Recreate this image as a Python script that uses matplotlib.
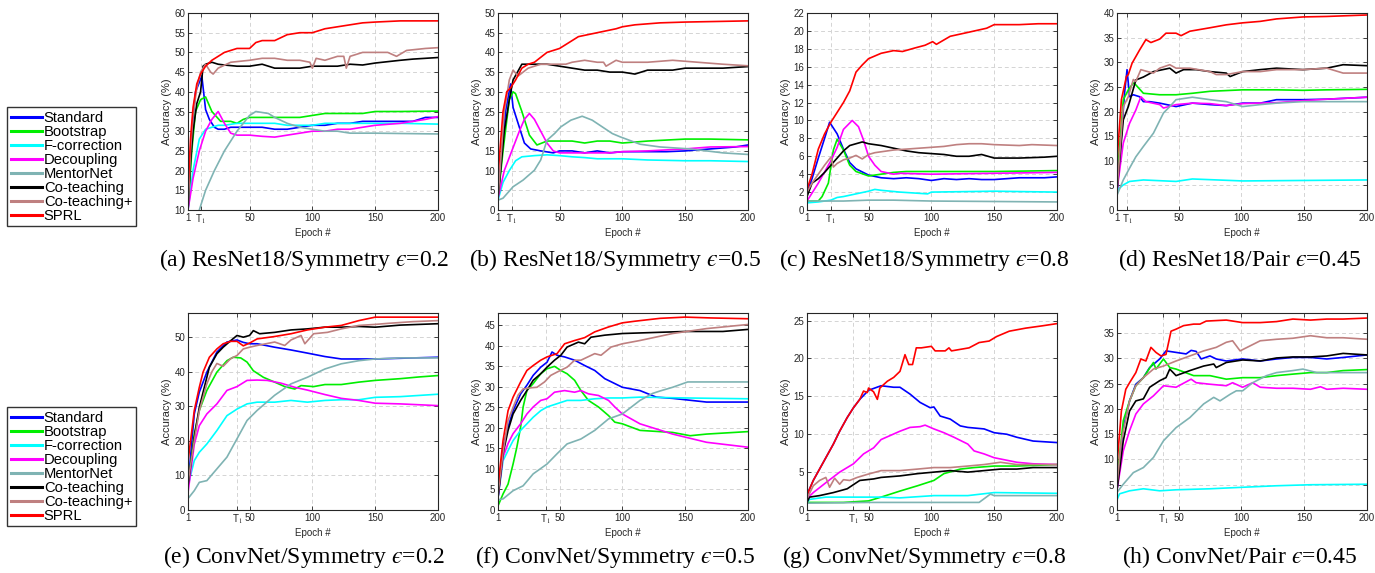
import matplotlib
matplotlib.use("Agg")
import matplotlib.pyplot as plt
from matplotlib.lines import Line2D

# ---------------------------------------------------------------
# curves: (epoch, accuracy %) pairs per method
# ---------------------------------------------------------------
methods = ["Standard", "Bootstrap", "F-correction", "Decoupling",
           "MentorNet", "Co-teaching", "Co-teaching+", "SPRL"]
colors = ["#0000ff", "#00ee00", "#00ffff", "#ff00ff",
          "#7fb3b3", "#000000", "#bf8080", "#ff0000"]

# (a) ResNet18 / Symmetry 0.2
res_sym02 = {
    "Standard": [(1, 10), (4, 30), (7, 40), (12, 44), (15, 35.5), (18, 33), (22, 31), (25, 30.5), (30, 30.5), (35, 31), (50, 31), (60, 31), (70, 30.5), (80, 30.5), (90, 31), (100, 31.5), (110, 31.5), (120, 32), (130, 32), (140, 32.5), (150, 32.5), (160, 32.5), (180, 32.5), (190, 33.5), (200, 33.5)],
    "Bootstrap": [(1, 10), (4, 25), (7, 35), (11, 38), (15, 38.7), (20, 35), (27, 32.5), (35, 32.5), (40, 32), (45, 33), (50, 33.5), (60, 33.5), (70, 33.5), (80, 33.5), (90, 33.5), (100, 34), (110, 34.5), (120, 34.5), (130, 34.5), (140, 34.5), (150, 35), (170, 35), (200, 35.1)],
    "F-correction": [(1, 10), (5, 20), (10, 28), (15, 30.5), (20, 31), (25, 31.5), (30, 31.5), (40, 32), (50, 32), (60, 32), (70, 32), (80, 31.5), (90, 31.5), (100, 31.5), (110, 32), (120, 32), (130, 32), (140, 32), (150, 32), (170, 32), (200, 31.8)],
    "Decoupling": [(1, 10), (5, 18), (10, 25), (15, 30), (20, 33), (25, 35), (30, 32), (35, 29.5), (40, 29), (50, 29), (60, 28.7), (70, 28.5), (80, 29), (90, 29.5), (100, 30), (110, 30), (120, 30.5), (130, 30.5), (140, 31), (150, 31.5), (170, 32), (190, 33), (200, 33.7)],
    "MentorNet": [(1, 3), (10, 10), (15, 15), (22, 20), (30, 25), (40, 30), (50, 34), (55, 35), (65, 34.5), (70, 33.5), (80, 32), (90, 31), (100, 30.5), (110, 30), (120, 30), (130, 29.5), (150, 29.5), (200, 29.3)],
    "Co-teaching": [(1, 10), (3, 22), (5, 30), (8, 37), (11, 40), (13, 46.5), (15, 47), (20, 47.5), (25, 47), (30, 46.8), (40, 46.5), (50, 46.5), (60, 47), (70, 46), (80, 46), (90, 46), (100, 46.5), (110, 46.5), (120, 46.5), (130, 47), (140, 46.8), (150, 47.3), (170, 48), (180, 48.3), (200, 48.7)],
    "Co-teaching+": [(1, 10), (3, 25), (5, 34), (8, 41), (11, 45), (15, 47), (19, 45), (21, 44.5), (25, 46), (35, 47.5), (50, 48), (60, 48.5), (70, 48.5), (80, 48), (90, 48), (98, 47.5), (100, 46), (103, 48.5), (110, 48), (120, 49), (125, 49), (127, 46), (130, 49), (140, 50), (150, 50), (160, 50), (167, 49), (175, 50.5), (190, 51), (200, 51.2)],
    "SPRL": [(1, 15), (3, 28), (5, 36), (8, 42), (11, 44.5), (15, 46.5), (20, 48), (25, 49), (30, 50), (40, 51), (50, 51), (55, 52.5), (60, 53), (70, 53), (80, 54.5), (90, 55), (100, 55), (110, 56), (120, 56.5), (130, 57), (140, 57.5), (150, 57.7), (170, 58), (200, 58)],
}

# (b) ResNet18 / Symmetry 0.5
res_sym05 = {
    "Standard": [(1, 3), (7, 25), (11, 32), (13, 26), (17, 22), (22, 17), (27, 15.5), (35, 15), (45, 14.5), (50, 15), (60, 15), (70, 14.5), (80, 15), (90, 14.5), (100, 14.8), (135, 14.8), (150, 15), (170, 15.5), (190, 16), (200, 16.5)],
    "Bootstrap": [(1, 3), (5, 15), (10, 28), (13, 30), (15, 29.5), (20, 25), (26, 19), (32, 16.5), (40, 17.5), (50, 17.5), (60, 17.5), (70, 17), (80, 17.5), (90, 17.5), (100, 17), (120, 17.5), (150, 18), (170, 18), (200, 17.8)],
    "F-correction": [(1, 2.5), (5, 7), (10, 10), (15, 12.5), (20, 13.5), (30, 13.8), (40, 14), (50, 13.8), (60, 13.5), (70, 13.3), (80, 13), (100, 13), (120, 12.7), (150, 12.5), (170, 12.5), (200, 12.3)],
    "Decoupling": [(1, 3), (6, 10), (12, 15), (18, 20), (22, 23), (26, 24.5), (30, 23), (35, 20), (40, 17), (45, 15), (50, 14.5), (60, 14.5), (70, 14.5), (80, 14.5), (90, 14.5), (100, 14.8), (120, 15), (150, 15.5), (170, 16), (200, 16.1)],
    "MentorNet": [(1, 2.5), (5, 3), (13, 5.9), (21, 7.6), (30, 10.1), (35, 12.7), (40, 17.7), (46, 19.4), (51, 21.1), (59, 22.8), (68, 23.8), (76, 22.8), (84, 21.1), (92, 19.4), (98, 18.6), (114, 16.7), (130, 16), (154, 15.5), (180, 14.5), (200, 14.1)],
    "Co-teaching": [(1, 3), (6, 20), (10, 28), (13, 33), (20, 37), (25, 37), (30, 37), (40, 37), (50, 36.5), (60, 36), (70, 35.5), (80, 35.5), (90, 35), (100, 35), (110, 34.5), (120, 35.5), (140, 35.5), (150, 36), (170, 36), (180, 36), (200, 36.4)],
    "Co-teaching+": [(1, 3), (6, 25), (10, 33), (13, 35.5), (17, 34), (25, 36), (35, 37), (45, 37), (55, 37), (60, 37.5), (70, 38), (80, 37.5), (85, 37.5), (87, 36.5), (95, 38), (100, 37.5), (120, 37.5), (140, 38), (160, 37.5), (180, 37), (200, 36.6)],
    "SPRL": [(1, 9), (5, 25), (8, 30), (11, 31), (15, 33), (20, 36), (25, 37), (30, 37.5), (40, 40), (50, 41), (55, 42), (65, 44), (80, 45), (95, 46), (100, 46.5), (110, 47), (130, 47.5), (150, 47.7), (200, 48)],
}

# (c) ResNet18 / Symmetry 0.8
res_sym08 = {
    "Standard": [(1, 2), (5, 3.5), (10, 5.8), (15, 8), (19, 9.8), (25, 8.5), (30, 6.8), (35, 5.3), (40, 4.6), (50, 3.9), (60, 3.6), (70, 3.5), (80, 3.6), (90, 3.5), (100, 3.3), (110, 3.5), (120, 3.4), (130, 3.5), (140, 3.4), (150, 3.4), (160, 3.5), (170, 3.6), (190, 3.6), (200, 3.7)],
    "Bootstrap": [(1, 1), (10, 1), (13, 1.5), (18, 3), (22, 6.7), (25, 7.9), (30, 6.7), (35, 5), (40, 4.3), (50, 3.8), (60, 4.0), (70, 4.2), (80, 4.3), (100, 4.3), (150, 4.3), (200, 4.4)],
    "F-correction": [(1, 0.8), (10, 0.9), (15, 1.0), (20, 1.1), (25, 1.4), (30, 1.5), (40, 1.8), (50, 2.1), (55, 2.3), (60, 2.2), (75, 2.0), (97, 1.8), (100, 2.0), (150, 2.1), (200, 2.0)],
    "Decoupling": [(1, 1), (10, 3), (20, 5.5), (25, 7), (30, 9), (37, 10), (42, 9.3), (46, 7.8), (50, 6), (55, 5), (60, 4.3), (70, 4), (75, 4.1), (100, 4), (150, 4.1), (200, 4.2)],
    "MentorNet": [(1, 1), (30, 1), (50, 1.1), (70, 1.1), (100, 1.0), (150, 0.95), (200, 0.9)],
    "Co-teaching": [(1, 1.5), (5, 3), (10, 3.5), (15, 4.2), (20, 5), (25, 5.8), (30, 6.6), (35, 7.2), (40, 7.4), (45, 7.6), (50, 7.4), (55, 7.3), (60, 7.2), (70, 6.9), (80, 6.6), (90, 6.4), (100, 6.3), (110, 6.2), (120, 6.0), (130, 6.0), (140, 6.2), (150, 5.8), (170, 5.8), (190, 5.9), (200, 6.0)],
    "Co-teaching+": [(1, 2), (5, 3), (10, 4), (15, 5), (20, 5.9), (22, 4.8), (25, 5.2), (30, 5.6), (35, 5.8), (40, 6.1), (45, 5.7), (50, 6.2), (55, 6.4), (60, 6.5), (70, 6.7), (80, 6.8), (90, 6.9), (100, 7.0), (110, 7.1), (120, 7.3), (130, 7.4), (140, 7.4), (150, 7.3), (170, 7.2), (180, 7.3), (200, 7.2)],
    "SPRL": [(1, 2.3), (5, 4), (10, 6.8), (15, 8.5), (20, 9.8), (25, 10.9), (30, 12), (35, 13.3), (40, 15.4), (45, 16.2), (50, 16.9), (55, 17.2), (60, 17.5), (70, 17.8), (77, 17.7), (87, 18.1), (95, 18.4), (101, 18.8), (104, 18.5), (115, 19.4), (128, 19.8), (144, 20.3), (150, 20.7), (170, 20.7), (185, 20.8), (200, 20.8)],
}

# (d) ResNet18 / Pair 0.45
res_pair045 = {
    "Standard": [(1, 3), (7, 23.7), (9, 28.5), (11, 23), (14, 23.4), (19, 23), (22, 22), (27, 22), (35, 21.7), (48, 21), (61, 21.7), (75, 21.4), (88, 21.2), (101, 21.7), (115, 21.7), (128, 22.4), (149, 22.4), (168, 22.5), (200, 22.9)],
    "Bootstrap": [(1, 6), (6, 22.4), (10, 24.4), (14, 25.8), (16, 25.4), (22, 23.7), (35, 23.4), (48, 23.4), (61, 23.7), (75, 24.1), (101, 24.4), (128, 24.4), (149, 24.3), (168, 24.4), (200, 24.5)],
    "F-correction": [(1, 4), (6, 5.1), (11, 5.8), (22, 6.1), (48, 5.8), (61, 6.3), (101, 5.9), (200, 6.1)],
    "Decoupling": [(1, 4), (6, 13.6), (11, 17.6), (16, 20.3), (20, 23), (24, 22), (35, 21.4), (38, 20.7), (48, 21.4), (61, 21.7), (75, 21.6), (88, 21.2), (101, 21.6), (128, 21.8), (149, 22.2), (168, 22.5), (200, 22.9)],
    "MentorNet": [(1, 3), (6, 6.1), (11, 8.5), (16, 10.8), (22, 12.9), (30, 15.6), (38, 19.7), (43, 21), (48, 22.4), (61, 22.9), (75, 22.4), (88, 22), (101, 21), (115, 21.4), (128, 21.7), (149, 22), (200, 22)],
    "Co-teaching": [(1, 4), (6, 18.3), (10, 21), (16, 26.4), (22, 27), (30, 28.1), (43, 28.8), (48, 27.8), (54, 28.5), (64, 28.5), (75, 28.1), (88, 27.8), (91, 27.1), (101, 28.1), (115, 28.5), (128, 28.8), (149, 28.5), (168, 28.8), (181, 29.5), (200, 29.3)],
    "Co-teaching+": [(1, 4), (6, 21), (10, 23), (14, 26.5), (16, 26.1), (20, 28.5), (24, 28.2), (30, 27.8), (35, 28.8), (43, 29.5), (48, 28.8), (59, 28.8), (75, 28.1), (80, 27.5), (88, 27.5), (101, 28.1), (115, 28.1), (128, 28.5), (149, 28.5), (168, 28.8), (181, 27.8), (200, 27.8)],
    "SPRL": [(1, 10), (4.5, 22.4), (8.5, 27.1), (10, 27.5), (13, 29.8), (19, 32.5), (24, 34.6), (28, 34), (35, 34.7), (40, 35.9), (48, 35.9), (52, 35.4), (59, 36.3), (75, 37), (88, 37.6), (101, 38), (115, 38.3), (128, 38.8), (149, 39.2), (168, 39.3), (200, 39.6)],
}

# (e) ConvNet / Symmetry 0.2
conv_sym02 = {
    "Standard": [(1, 7), (6, 27.8), (10, 34.1), (16, 39.9), (24, 45.7), (32, 48.6), (40, 49.2), (45, 48.5), (50, 48.1), (56, 48.1), (70, 47.1), (83, 46.3), (96, 45.4), (110, 44.4), (123, 43.7), (137, 43.7), (150, 43.7), (170, 43.9), (200, 44.2)],
    "Bootstrap": [(1, 7), (6, 22), (10, 28.8), (16, 34.6), (24, 39.9), (32, 43.2), (37, 44.2), (43, 44), (48, 42.8), (53, 40.3), (61, 38.4), (70, 37), (78, 35.7), (86, 35), (91, 36), (101, 35.7), (110, 36.3), (123, 36.3), (137, 37), (150, 37.5), (170, 38), (185, 38.5), (200, 38.9)],
    "F-correction": [(1, 7), (6, 14.3), (10, 16.7), (16, 19.1), (24, 23), (32, 27.3), (40, 29.2), (48, 30.7), (56, 31.2), (70, 31.2), (83, 31.7), (96, 31.2), (110, 31.7), (123, 31.9), (137, 31.9), (150, 32.6), (170, 32.8), (200, 33.5)],
    "Decoupling": [(1, 5), (6, 19), (10, 24.4), (16, 27.8), (24, 30.7), (32, 34.6), (40, 35.7), (48, 37.5), (56, 37.6), (64, 37.5), (75, 36.7), (86, 35.5), (96, 34.7), (110, 33.4), (123, 32.3), (137, 31.7), (150, 30.9), (170, 30.7), (200, 30.2)],
    "MentorNet": [(1, 3.3), (6, 5.6), (10, 8), (16, 8.5), (24, 11.9), (32, 15.3), (40, 20.6), (48, 25.9), (56, 28.8), (70, 33.2), (83, 36.5), (96, 38.4), (110, 40.8), (123, 42.3), (137, 43.2), (150, 43.7), (170, 44), (200, 44)],
    "Co-teaching": [(1, 7), (6, 21), (10, 29.7), (14, 35.5), (18, 41.3), (24, 45.2), (29, 47.1), (35, 49), (40, 50.5), (45, 50), (50, 50.5), (53, 51.9), (58, 51), (70, 51.4), (83, 52.1), (96, 52.4), (110, 52.9), (123, 52.9), (137, 53.1), (150, 52.9), (170, 53.5), (200, 53.9)],
    "Co-teaching+": [(1, 8), (6, 20), (10, 28.7), (16, 36.5), (20, 40), (24, 42.4), (29, 41.6), (35, 43.8), (40, 44.7), (45, 46.6), (50, 47.1), (56, 47.6), (70, 48.6), (78, 47.6), (83, 49.2), (91, 50.5), (94, 48.1), (101, 51), (112, 51.4), (123, 52.4), (137, 53.4), (150, 53.7), (160, 54), (180, 54.5), (200, 54.8)],
    "SPRL": [(1, 14), (6, 28.8), (10, 35.5), (13, 39.9), (18, 44.2), (24, 46.6), (29, 48.1), (35, 48.8), (40, 48.8), (45, 47.5), (50, 48.3), (56, 49.5), (70, 50.2), (83, 51), (96, 52.1), (110, 52.9), (123, 53.4), (137, 54.8), (150, 55.8), (170, 55.8), (200, 55.8)],
}

# (f) ConvNet / Symmetry 0.5
conv_sym05 = {
    "Standard": [(1, 3), (5, 15.3), (9, 20.2), (13, 24.2), (19, 28.3), (24, 30.4), (29, 32.8), (35, 34.8), (40, 36), (44, 38.5), (48, 37.7), (54, 37.3), (62, 36.5), (70, 35.2), (78, 34), (86, 32), (94, 30.8), (100, 29.9), (114, 29.1), (127, 27.5), (140, 27.2), (167, 26.3), (200, 26.3)],
    "Bootstrap": [(1, 1), (5, 3.9), (9, 6.3), (13, 11.2), (16, 15.3), (19, 20.2), (21, 25.1), (24, 29.1), (29, 30.8), (35, 33.2), (40, 34.4), (46, 35), (51, 34), (56, 33.2), (62, 31.6), (67, 29.1), (73, 26.7), (81, 25.1), (89, 23), (94, 21.4), (100, 21), (114, 19.4), (140, 18.9), (154, 18.1), (167, 18.5), (200, 19.1)],
    "F-correction": [(1, 3), (5, 12), (9, 14.5), (13, 16.9), (19, 19.4), (24, 21), (29, 22.6), (35, 24.2), (40, 25.1), (48, 25.9), (56, 26.7), (67, 26.7), (78, 27.1), (89, 27.3), (100, 27.3), (114, 27.5), (150, 27.3), (200, 27.1)],
    "Decoupling": [(1, 3), (5, 12.9), (9, 16.2), (13, 18.6), (19, 21), (24, 23.4), (29, 25.1), (35, 26.7), (40, 27.1), (46, 28.7), (54, 29.1), (62, 28.7), (67, 29.1), (73, 28.3), (81, 27.9), (89, 26.7), (94, 25.1), (100, 23.4), (114, 21), (140, 18.5), (167, 16.5), (200, 15.3)],
    "MentorNet": [(1, 2.5), (5, 2.7), (13, 4.7), (21, 5.9), (29, 8.8), (40, 11.2), (48, 13.7), (56, 16.1), (67, 17.3), (78, 19.4), (89, 22.2), (100, 23.4), (114, 26.7), (124, 28.4), (130, 29), (140, 29.9), (152, 31.2), (200, 31.2)],
    "Co-teaching": [(1, 3), (5, 13.7), (9, 19.4), (13, 23.4), (19, 26.7), (24, 29.1), (29, 31.6), (35, 33.2), (40, 34.8), (46, 36.5), (51, 37.7), (56, 39.7), (65, 40.9), (70, 40.5), (75, 42.1), (86, 42.6), (100, 43), (120, 43.2), (150, 43.5), (180, 43.5), (200, 44)],
    "Co-teaching+": [(1, 4), (5, 14), (9, 21.8), (13, 25), (17, 28), (21, 29.5), (28, 29.8), (32, 29.9), (38, 31.2), (43, 32.8), (48, 33.6), (56, 34.8), (62, 36.5), (67, 36.5), (78, 38.1), (83, 37.7), (91, 39.7), (100, 40.5), (114, 41.3), (140, 43), (167, 44.2), (200, 45.2)],
    "SPRL": [(1, 6), (5, 16.9), (9, 24.2), (13, 27.5), (19, 31.2), (24, 34), (29, 35.2), (35, 36.5), (40, 37.3), (44, 37.7), (48, 38.1), (54, 40.5), (62, 41.3), (70, 42), (78, 43.4), (89, 44.6), (100, 45.6), (110, 46), (130, 46.7), (150, 47), (170, 46.8), (200, 46.6)],
}

# (g) ConvNet / Symmetry 0.8
conv_sym08 = {
    "Standard": [(1, 2), (6, 3.9), (11, 5.4), (16, 6.9), (22, 8.7), (27, 10.4), (33, 12.2), (38, 13.5), (43, 14.6), (50, 15.8), (60, 16.4), (70, 16.2), (75, 16.2), (83, 15.3), (91, 14.2), (99, 13.5), (102, 13.6), (107, 12.4), (115, 12), (123, 11.1), (129, 10.9), (142, 10.7), (150, 10.2), (160, 10), (168, 9.6), (181, 9.1), (200, 8.9)],
    "Bootstrap": [(1, 1), (30, 1), (50, 1.2), (60, 1.7), (75, 2.5), (89, 3.2), (102, 3.9), (110, 4.8), (123, 5.4), (134, 5.6), (150, 5.8), (168, 5.8), (200, 6.0)],
    "F-correction": [(1, 1), (3, 1.4), (16, 1.7), (60, 1.7), (75, 1.6), (102, 1.9), (129, 1.9), (150, 2.3), (200, 2.2)],
    "Decoupling": [(1, 1.5), (6, 2.3), (16, 3.6), (27, 5), (38, 6.1), (46, 7.4), (54, 8.2), (60, 9.3), (75, 10.4), (83, 10.9), (91, 11), (95, 11.2), (102, 10.7), (110, 10.2), (118, 9.6), (129, 8.7), (134, 7.8), (142, 7.4), (150, 6.9), (168, 6.3), (181, 6.1), (200, 6.0)],
    "MentorNet": [(1, 0.9), (50, 1.0), (100, 1.0), (138, 1.0), (147, 2.1), (150, 1.9), (200, 1.9)],
    "Co-teaching": [(1, 1), (3, 1.7), (11, 1.9), (22, 2.3), (33, 2.8), (43, 3.9), (54, 4.1), (60, 4.3), (75, 4.5), (89, 4.8), (102, 5.0), (115, 5.2), (129, 5.0), (142, 5.2), (155, 5.4), (168, 5.4), (181, 5.6), (200, 5.6)],
    "Co-teaching+": [(1, 1.5), (6, 3.2), (11, 3.9), (16, 4.3), (19, 3.0), (23, 4.2), (27, 3.4), (30, 4.0), (35, 3.9), (41, 4.3), (49, 4.7), (60, 5.2), (75, 5.2), (89, 5.4), (102, 5.6), (115, 5.6), (129, 5.8), (142, 6.0), (155, 6.3), (168, 6.0), (200, 6.0)],
    "SPRL": [(1, 2), (6, 3.9), (11, 5.4), (16, 6.9), (22, 8.7), (27, 10.4), (33, 12.2), (38, 13.5), (43, 14.6), (46, 15.7), (49, 15.5), (50, 16.1), (54, 15.6), (57, 14.6), (59, 16.1), (65, 17), (70, 17.5), (75, 18.3), (79, 20.5), (82, 19.2), (85, 19.2), (88, 21.4), (92, 21.4), (100, 21.6), (103, 21), (111, 21), (114, 21.4), (116, 21), (130, 21.4), (138, 22.1), (146, 22.3), (152, 22.9), (162, 23.6), (175, 24), (188, 24.3), (200, 24.6)],
}

# (h) ConvNet / Pair 0.45
conv_pair045 = {
    "Standard": [(1, 4), (6, 16.3), (11, 21.6), (16, 24.9), (22, 26.2), (27, 28.2), (35, 29.9), (40, 31.5), (48, 31.2), (56, 30.9), (60, 31.6), (64, 31.4), (68, 29.9), (75, 30.5), (80, 29.9), (88, 29.5), (101, 29.9), (115, 29.5), (128, 29.9), (141, 30.2), (155, 30.2), (168, 29.9), (181, 30.2), (200, 30.7)],
    "Bootstrap": [(1, 6), (6, 17.7), (11, 21.6), (16, 24.6), (22, 26.2), (30, 29.2), (32, 27.9), (38, 29.9), (43, 28.2), (48, 27.9), (62, 26.6), (75, 26.6), (88, 25.9), (101, 26.2), (115, 26.2), (128, 26.6), (141, 26.9), (155, 27.2), (168, 27.2), (181, 27.6), (200, 27.8)],
    "F-correction": [(1, 2), (3, 3.2), (11, 3.8), (22, 4.2), (35, 3.8), (48, 4), (75, 4.2), (101, 4.5), (128, 4.8), (155, 5), (200, 5.1)],
    "Decoupling": [(1, 4), (6, 11.7), (11, 15.7), (16, 19), (22, 21), (30, 22.6), (38, 24.6), (48, 24.3), (60, 25.9), (64, 25.2), (75, 24.9), (88, 24.6), (93, 25.2), (101, 24.3), (109, 25.2), (115, 24.3), (128, 24.1), (141, 24.1), (155, 23.9), (163, 24.4), (168, 23.9), (181, 24.1), (200, 23.9)],
    "MentorNet": [(1, 3.5), (6, 5.1), (14, 7.4), (22, 8.4), (30, 10.4), (38, 13.7), (48, 16.3), (59, 18.3), (70, 21), (78, 22.3), (83, 21.6), (91, 22.9), (96, 23.6), (101, 23.6), (109, 25.2), (120, 26.6), (128, 27.2), (141, 27.6), (149, 27.9), (160, 27.2), (200, 27.2)],
    "Co-teaching": [(1, 4), (6, 13.7), (11, 19.6), (16, 21.6), (22, 22), (27, 24.3), (35, 25.6), (40, 26.2), (43, 27.9), (48, 26.6), (59, 27.6), (70, 28.5), (78, 28.9), (80, 28.2), (88, 29.2), (101, 29.7), (115, 29.5), (128, 30.1), (141, 30.3), (155, 30.3), (168, 30.5), (181, 31), (200, 30.7)],
    "Co-teaching+": [(1, 5), (4.5, 13.7), (11, 21.6), (16, 24.6), (22, 26.2), (30, 27.9), (38, 28.5), (48, 29.5), (59, 30.5), (70, 31.5), (80, 32.2), (88, 33.2), (93, 33.5), (99, 31.5), (107, 32.5), (115, 33.5), (128, 33.8), (141, 34), (155, 34.5), (168, 34.1), (181, 34.1), (200, 33.8)],
    "SPRL": [(1, 9), (4.5, 19.6), (8, 23.9), (11, 25.2), (16, 27.2), (20, 29.9), (24, 29.5), (28, 32.2), (32, 31.2), (36, 30.5), (40, 30.8), (44, 35.4), (48, 35.8), (54, 36.5), (62, 36.8), (67, 36.8), (72, 37.4), (88, 37.6), (101, 37.1), (115, 37.1), (128, 37.3), (141, 37.8), (155, 37.6), (168, 37.8), (181, 37.8), (200, 38)],
}

panels = [res_sym02, res_sym05, res_sym08, res_pair045,
          conv_sym02, conv_sym05, conv_sym08, conv_pair045]
eps = '$\u03f5$'
captions = ["(a) ResNet18/Symmetry " + eps + "=0.2", "(b) ResNet18/Symmetry " + eps + "=0.5",
            "(c) ResNet18/Symmetry " + eps + "=0.8", "(d) ResNet18/Pair " + eps + "=0.45",
            "(e) ConvNet/Symmetry " + eps + "=0.2", "(f) ConvNet/Symmetry " + eps + "=0.5",
            "(g) ConvNet/Symmetry " + eps + "=0.8", "(h) ConvNet/Pair " + eps + "=0.45"]
t1_epoch = [11, 12, 20, 9, 40, 39, 38, 38]
y_lims = [(10, 60), (0, 50), (0, 22), (0, 40), (0, 57), (0, 48), (0, 26), (0, 39)]
y_ticks = [range(10, 61, 5), range(0, 51, 5), range(0, 23, 2), range(0, 41, 5),
           range(0, 51, 10), range(0, 46, 5), range(0, 26, 5), range(0, 36, 5)]

# ---------------------------------------------------------------
plt.rcParams['font.family'] = ['Liberation Sans', 'DejaVu Sans']
plt.rcParams['mathtext.fontset'] = 'stix'
tick_col = '#262626'

W, H = 1375, 573
fig = plt.figure(figsize=(W / 100, H / 100), dpi=100)

col_left = [188, 498, 807, 1117]
cap_center = [304, 615, 924, 1240]
row_top = [13, 313]
ax_w, ax_h = 250, 197

for k, data in enumerate(panels):
    r, c = divmod(k, 4)
    ax = fig.add_axes([col_left[c] / W, 1 - (row_top[r] + ax_h) / H, ax_w / W, ax_h / H])
    for name, col in zip(methods, colors):
        ep = [p[0] for p in data[name]]
        acc = [p[1] for p in data[name]]
        ax.plot(ep, acc, color=col, lw=1.2, solid_joinstyle='round')
    ax.set_xlim(1, 200)
    ax.set_ylim(*y_lims[k])
    ax.set_xticks([1, t1_epoch[k], 50, 100, 150, 200])
    ax.set_xticklabels(['1', 'T$_1$', '50', '100', '150', '200'])
    ax.set_yticks(list(y_ticks[k]))
    ax.grid(True, ls=(0, (4, 3)), color='#d4d4d4', lw=0.7)
    ax.set_axisbelow(True)
    ax.tick_params(direction='in', length=3, width=0.6, top=True, right=True,
                   labelsize=7, colors=tick_col, pad=2)
    for sp in ax.spines.values():
        sp.set_color(tick_col)
        sp.set_linewidth(0.8)
    ax.set_ylabel('Accuracy (%)', fontsize=8, color=tick_col, labelpad=2)
    ax.set_xlabel('Epoch #', fontsize=7, color=tick_col, labelpad=1)

    fig.text(cap_center[c] / W, 1 - (266 + 297 * r) / H, captions[k],
             ha='center', va='baseline', fontsize=17, family='Liberation Serif')

handles = [Line2D([], [], color=col, lw=2.2) for col in colors]
for top in (107, 407):
    fig.legend(handles, methods, loc='upper left',
               bbox_to_anchor=(7 / W, 1 - top / H), borderaxespad=0,
               fontsize=10.6, frameon=True, fancybox=False, edgecolor='#333333',
               handlelength=2.1, handletextpad=0.15, labelspacing=0.0,
               borderpad=0.25, framealpha=1)

fig.savefig('out.png', dpi=100)
